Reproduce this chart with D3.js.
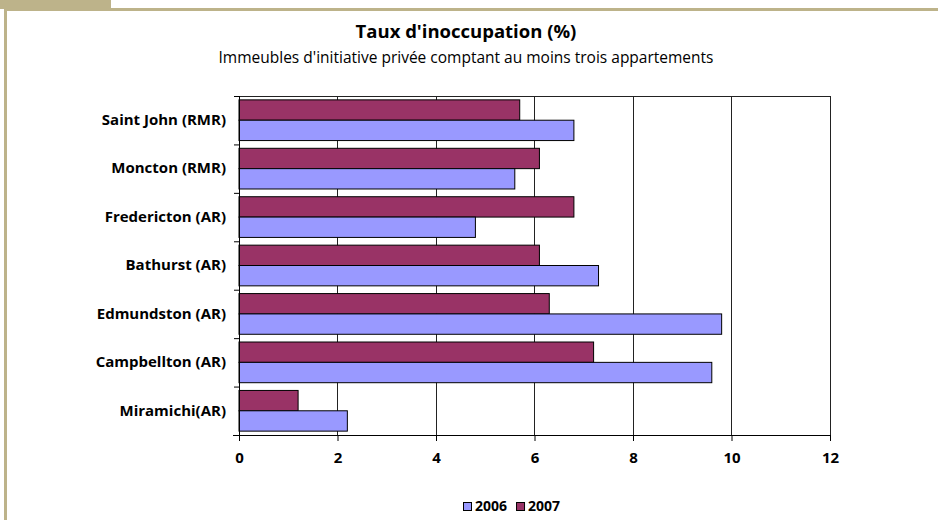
<!DOCTYPE html>
<html>
<head>
<meta charset="utf-8">
<script src="https://cdn.jsdelivr.net/npm/d3@7"></script>
<style>
  html, body { margin: 0; padding: 0; background: #fff; }
  svg { display: block; font-family: "Open Sans", Lato, sans-serif; }
</style>
</head>
<body>
<svg id="chart" width="938" height="520"></svg>
<script>
const categories = ["Saint John (RMR)", "Moncton (RMR)", "Fredericton (AR)", "Bathurst (AR)", "Edmundston (AR)", "Campbellton (AR)", "Miramichi(AR)"];
const series = ["2007", "2006"];
const values2006 = [6.8, 5.6, 4.8, 7.3, 9.8, 9.6, 2.2];
const values2007 = [5.7, 6.1, 6.8, 6.1, 6.3, 7.2, 1.2];
const xTicks = [0, 2, 4, 6, 8, 10, 12];
const legendItems = ["2006", "2007"];
const colors = { "2006": "#9999FF", "2007": "#993366" };

const svg = d3.select("#chart");
const W = 938, H = 520;
const frame = "#BDB38A";
const FONT = "'Open Sans', Lato, sans-serif";

// frame decoration
svg.append("rect").attr("x", 0).attr("y", 0).attr("width", 111).attr("height", 9).attr("fill", frame);
svg.append("rect").attr("x", 4).attr("y", 8).attr("width", W - 4).attr("height", 3).attr("fill", frame);
svg.append("rect").attr("x", 4).attr("y", 8).attr("width", 3).attr("height", H - 8).attr("fill", frame);

// title
svg.append("text").attr("x", 466).attr("y", 38).attr("text-anchor", "middle")
  .attr("font-size", 18.5).attr("font-weight", "bold").attr("fill", "#000")
  .text("Taux d'inoccupation (%)");
svg.append("text").attr("x", 466).attr("y", 63).attr("text-anchor", "middle")
  .attr("font-size", 15.5).attr("fill", "#000")
  .text("Immeubles d'initiative privée comptant au moins trois appartements");

const m = { left: 239, right: 830, top: 96, bottom: 435 };
const x = d3.scaleLinear().domain([0, 12]).range([m.left, m.right]);
const y = d3.scaleBand().domain(categories).range([m.top, m.bottom]).paddingInner(0).paddingOuter(0);
const inner = d3.scaleBand().domain(series).range([0, y.bandwidth()]).paddingInner(0).paddingOuter(0.19);

// gridlines
svg.append("g").selectAll("line").data(xTicks.filter(d => d > 0)).join("line")
  .attr("x1", d => x(d)).attr("x2", d => x(d))
  .attr("y1", m.top).attr("y2", m.bottom)
  .attr("stroke", "#222").attr("stroke-width", 1).attr("shape-rendering", "crispEdges");
// top border
svg.append("line").attr("x1", m.left).attr("x2", m.right).attr("y1", m.top + 0.5).attr("y2", m.top + 0.5)
  .attr("stroke", "#222").attr("stroke-width", 1);

// bars
const data = categories.map((c, i) => ({ c, v: { "2006": values2006[i], "2007": values2007[i] } }));
const g = svg.append("g");
data.forEach(d => {
  series.forEach(s => {
    g.append("rect")
      .attr("x", x(0))
      .attr("y", y(d.c) + inner(s))
      .attr("width", x(d.v[s]) - x(0))
      .attr("height", inner.bandwidth())
      .attr("fill", colors[s])
      .attr("stroke", "#000").attr("stroke-width", 1);
  });
});

// x axis
const xAxis = d3.axisBottom(x).tickValues(xTicks).tickSize(6).tickPadding(11).tickFormat(d3.format("d"));
const gx = svg.append("g").attr("transform", `translate(0,${m.bottom})`).call(xAxis);
gx.select(".domain").attr("d", `M${m.left - 6},0.5H${m.right}`).attr("stroke", "#000");
gx.selectAll(".tick line").attr("stroke", "#000");
gx.selectAll("text").attr("font-size", 15).attr("font-weight", "bold").attr("fill", "#000")
  .attr("font-family", FONT);

// y axis
const yAxis = d3.axisLeft(y).tickSize(0).tickPadding(13);
const gy = svg.append("g").attr("transform", `translate(${m.left},0)`).call(yAxis);
gy.select(".domain").attr("d", `M0.5,${m.top}V${m.bottom}`).attr("stroke", "#000");
gy.selectAll("text").attr("font-size", 15).attr("font-weight", "bold").attr("fill", "#000")
  .attr("font-family", FONT);
// boundary ticks on y axis
const bounds = categories.map(c => y(c)).concat([m.bottom]);
svg.append("g").selectAll("line").data(bounds).join("line")
  .attr("x1", m.left - 5).attr("x2", m.left)
  .attr("y1", d => d + 0.5).attr("y2", d => d + 0.5)
  .attr("stroke", "#000");

// legend
const lg = svg.append("g").attr("transform", "translate(463,502)");
let lx = 0;
legendItems.forEach((s, i) => {
  const it = lg.append("g").attr("transform", `translate(${lx},0)`);
  it.append("rect").attr("x", 0.5).attr("y", 0.5).attr("width", 8).attr("height", 8)
    .attr("fill", colors[s]).attr("stroke", "#000");
  const t = it.append("text").attr("x", 12).attr("y", 8.5).attr("font-size", 14)
    .attr("font-weight", "bold").attr("fill", "#000").text(s);
  lx += 12 + t.node().getComputedTextLength() + 9;
});
</script>
</body>
</html>
